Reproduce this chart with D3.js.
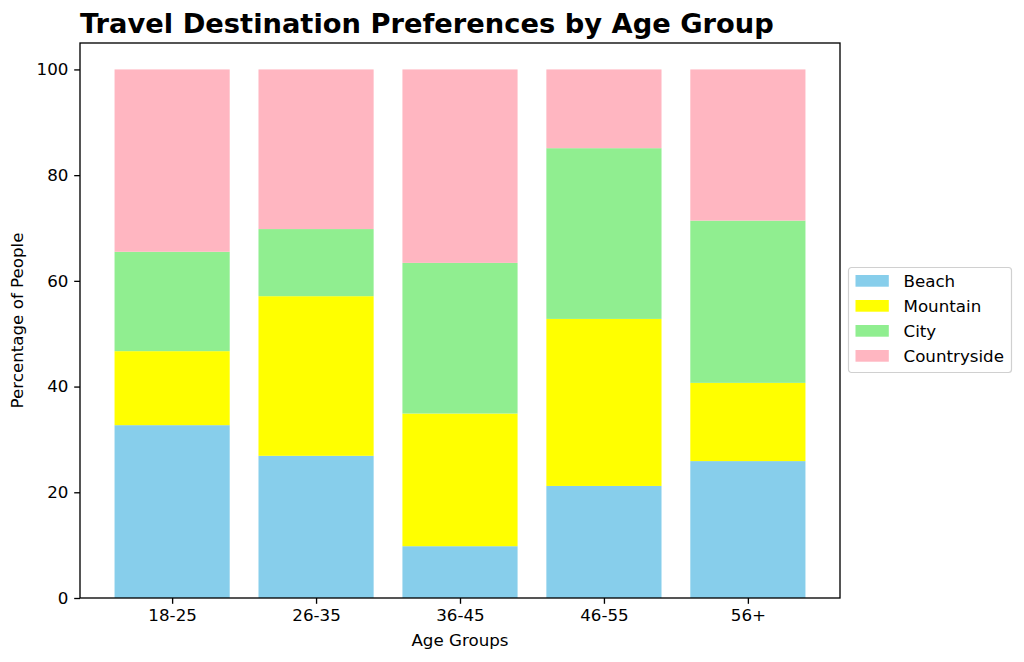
<!DOCTYPE html>
<html>
<head>
<meta charset="utf-8">
<script src="https://cdn.jsdelivr.net/npm/d3@7"></script>
<style>
  html, body { margin: 0; padding: 0; background: #fff; }
  svg { display: block; font-family: "DejaVu Sans", sans-serif; }
</style>
</head>
<body>
<svg id="chart" width="1024" height="662"></svg>
<script>
const categories = ["18-25", "26-35", "36-45", "46-55", "56+"];
const seriesNames = ["Beach", "Mountain", "City", "Countryside"];
const beach = [32.7, 26.9, 9.8, 21.2, 25.9];
const mountain = [14.0, 30.2, 25.1, 31.6, 14.8];
const city = [18.8, 12.7, 28.5, 32.3, 30.7];
const countryside = [34.5, 30.2, 36.6, 14.9, 28.6];
const colors = ["#87CEEB", "#FFFF00", "#90EE90", "#FFB6C1"];
const yTicks = [0, 20, 40, 60, 80, 100];

const svg = d3.select("#chart");
const pLeft = 80, pRight = 840, pTop = 43, pBottom = 598;

const rows = categories.map((c, i) => ({
  cat: c, Beach: beach[i], Mountain: mountain[i], City: city[i], Countryside: countryside[i]
}));
const stacked = d3.stack().keys(seriesNames)(rows);

const xLin = d3.scaleLinear().domain([-0.64, 4.64]).range([pLeft, pRight]);
const barW = xLin(0.8) - xLin(0);
const y = d3.scaleLinear().domain([0, 105]).range([pBottom, pTop]);

const g = svg.append("g");
stacked.forEach((layer, si) => {
  g.selectAll(null).data(layer).enter().append("rect")
    .attr("x", (d, i) => xLin(i) - barW / 2)
    .attr("width", barW)
    .attr("y", d => y(d[1]))
    .attr("height", d => y(d[0]) - y(d[1]))
    .attr("fill", colors[si]);
});

const xAxis = d3.axisBottom(xLin).tickValues(d3.range(categories.length))
  .tickFormat(i => categories[i]).tickSize(5.8).tickPadding(5.8);
const gx = svg.append("g").attr("transform", `translate(0,${pBottom})`).call(xAxis);
gx.select(".domain").remove();
gx.selectAll("line").attr("stroke", "#000").attr("stroke-width", 1.33);
gx.selectAll("text").attr("font-size", 16.7).attr("fill", "#000")
  .attr("font-family", "DejaVu Sans");

const yAxis = d3.axisLeft(y).tickValues(yTicks).tickSize(5.8).tickPadding(5.8);
const gy = svg.append("g").attr("transform", `translate(${pLeft},0)`).call(yAxis);
gy.select(".domain").remove();
gy.selectAll("line").attr("stroke", "#000").attr("stroke-width", 1.33);
gy.selectAll("text").attr("font-size", 16.7).attr("fill", "#000")
  .attr("font-family", "DejaVu Sans");

svg.append("rect").attr("x", pLeft).attr("y", pTop)
  .attr("width", pRight - pLeft).attr("height", pBottom - pTop)
  .attr("fill", "none").attr("stroke", "#000").attr("stroke-width", 1.33);

svg.append("text").attr("x", (pLeft + pRight) / 2).attr("y", 646)
  .attr("text-anchor", "middle").attr("font-size", 16.7).text("Age Groups");
svg.append("text").attr("transform", `translate(23,${(pTop + pBottom) / 2}) rotate(-90)`)
  .attr("text-anchor", "middle").attr("font-size", 16.7).text("Percentage of People");
svg.append("text").attr("x", pLeft).attr("y", 33)
  .attr("font-size", 27.3).attr("font-weight", "bold").text("Travel Destination Preferences by Age Group");

const lg = svg.append("g").attr("transform", "translate(848.5,267.5)");
lg.append("rect").attr("width", 163).attr("height", 105).attr("rx", 3)
  .attr("fill", "#fff").attr("fill-opacity", 0.8).attr("stroke", "#d0d0d0").attr("stroke-width", 1.2);
seriesNames.forEach((n, i) => {
  const cy = 13.5 + i * 25;
  lg.append("rect").attr("x", 7).attr("y", cy - 6).attr("width", 33.3).attr("height", 11.7)
    .attr("fill", colors[i]);
  lg.append("text").attr("x", 55).attr("y", cy + 6).attr("font-size", 16.7).text(n);
});
</script>
</body>
</html>
